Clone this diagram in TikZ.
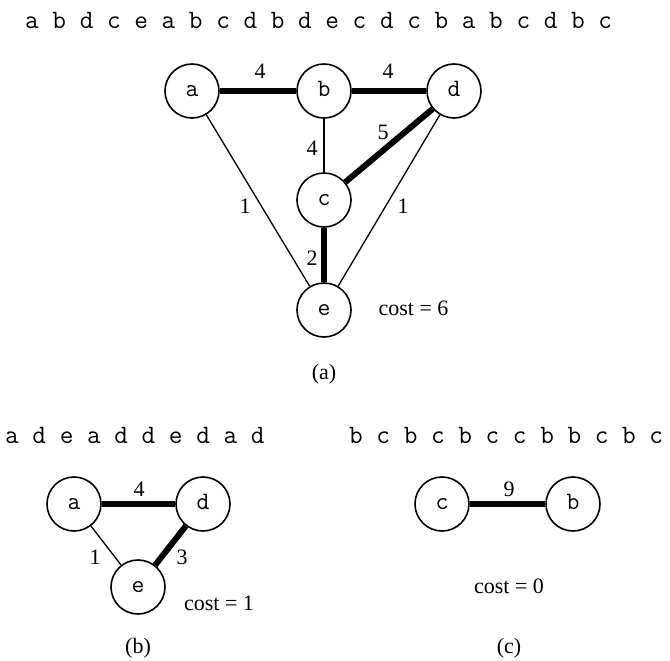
\documentclass[tikz,border=0pt]{standalone}
\usepackage{fontspec}
\setmainfont{Liberation Serif}
\begin{document}
\begin{tikzpicture}[x=1pt,y=-1pt,
  vtx/.style={circle,draw,line width=1.6pt,minimum size=54pt,inner sep=0pt,
    text height=11pt,text depth=0pt,font=\fontsize{25}{25}\ttfamily},
  seq/.style={anchor=base west,inner sep=0pt,font=\fontsize{26.5}{26}\ttfamily},
  lbl/.style={inner sep=0pt,font=\fontsize{22}{22}\selectfont},
  lite/.style={line width=1.3pt},
  heavy/.style={line width=6pt}]
\useasboundingbox (0,0) rectangle (670,661);

% ---------- (a) ----------
\node[seq] (s1) at (25,29) {a b d c e a b c d b d e c d c b a b c d b c};
\node[vtx] (a1) at (192,91) {a};
\node[vtx] (b1) at (324,91) {b};
\node[vtx] (d1) at (454,91) {d};
\node[vtx] (c1) at (324,200) {c};
\node[vtx] (e1) at (324,310) {e};
\draw[heavy] (a1) -- (b1);
\draw[heavy] (b1) -- (d1);
\draw[heavy] (d1) -- (c1);
\draw[heavy] (c1) -- (e1);
\draw[lite] (b1) -- (c1);
\draw[lite] (a1) -- (e1);
\draw[lite] (d1) -- (e1);
\node[lbl] (l1) at (260,71) {4};
\node[lbl] (l2) at (388,71) {4};
\node[lbl] (l3) at (312,148) {4};
\node[lbl] (l4) at (383,132) {5};
\node[lbl] (l5) at (245,206) {1};
\node[lbl] (l6) at (403,206) {1};
\node[lbl] (l7) at (312,258) {2};
\node[lbl,anchor=base] (cost1) at (413.5,315) {cost = 6};
\node[lbl,anchor=base] (capa) at (324,379) {(a)};

% ---------- (b) ----------
\node[seq] (s2) at (5,443) {a d e a d d e d a d};
\node[vtx] (a2) at (74,504) {a};
\node[vtx] (d2) at (203,504) {d};
\node[vtx] (e2) at (138,587) {e};
\draw[heavy] (a2) -- (d2);
\draw[heavy] (d2) -- (e2);
\draw[lite] (a2) -- (e2);
\node[lbl] (m1) at (139,489) {4};
\node[lbl] (m2) at (95,557) {1};
\node[lbl] (m3) at (182,557) {3};
\node[lbl,anchor=base] (cost2) at (219,610) {cost = 1};
\node[lbl,anchor=base] (capb) at (138,653) {(b)};

% ---------- (c) ----------
\node[seq] (s3) at (349,443) {b c b c b c c b b c b c};
\node[vtx] (c3) at (442,504) {c};
\node[vtx] (b3) at (573,504) {b};
\draw[heavy] (c3) -- (b3);
\node[lbl] (n1) at (509,489) {9};
\node[lbl,anchor=base] (cost3) at (509,593) {cost = 0};
\node[lbl,anchor=base] (capc) at (509,653) {(c)};
\end{tikzpicture}
\end{document}
